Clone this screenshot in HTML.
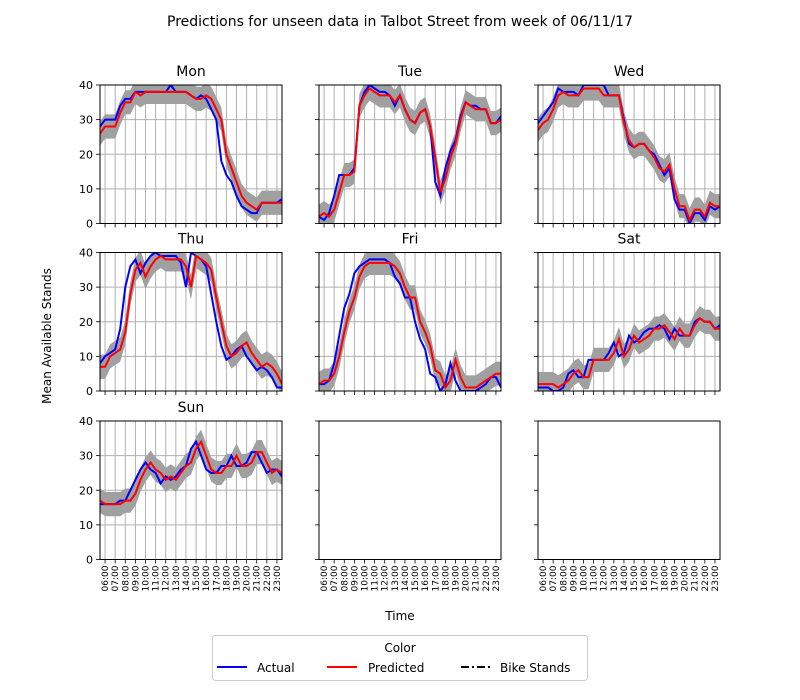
<!DOCTYPE html>
<html><head><meta charset="utf-8"><style>
body{margin:0;background:#fff;}
svg{display:block;font-family:"DejaVu Sans","Liberation Sans",sans-serif;}
</style></head><body>
<svg id="fig" width="800" height="700" viewBox="0 0 800 700" xmlns="http://www.w3.org/2000/svg">
<text x="400" y="26" text-anchor="middle" font-size="14">Predictions for unseen data in Talbot Street from week of 06/11/17</text>
<text transform="translate(51,336) rotate(-90)" text-anchor="middle" font-size="12">Mean Available Stands</text>
<text x="400" y="620" text-anchor="middle" font-size="12">Time</text>
<g id="panels"></g>
<g>
<rect x="212.5" y="635.5" width="375" height="45" rx="3" fill="#fff" stroke="#ccc"/>
<text x="400" y="652" text-anchor="middle" font-size="12">Color</text>
<line x1="217" y1="667" x2="247" y2="667" stroke="#0000ff" stroke-width="2"/>
<text x="257" y="672" font-size="12">Actual</text>
<line x1="327" y1="667" x2="357" y2="667" stroke="#ff0000" stroke-width="2"/>
<text x="368" y="672" font-size="12">Predicted</text>
<line x1="461" y1="667" x2="491" y2="667" stroke="#000" stroke-width="2" stroke-dasharray="8,3,2,3"/>
<text x="500" y="672" font-size="12">Bike Stands</text>
</g>
</svg>
<script>
const days = ["Mon","Tue","Wed","Thu","Fri","Sat","Sun"];
const times = [5.5,6,6.5,7,7.5,8,8.5,9,9.5,10,10.5,11,11.5,12,12.5,13,13.5,14,14.5,15,15.5,16,16.5,17,17.5,18,18.5,19,19.5,20,20.5,21,21.5,22,22.5,23,23.5];
const tickLabels = ["06:00","07:00","08:00","09:00","10:00","11:00","12:00","13:00","14:00","15:00","16:00","17:00","18:00","19:00","20:00","21:00","22:00","23:00"];
const yTicks = [0,10,20,30,40];
const bandHalfWidth = 3.5;
const actualMon = [28,30,30,30,34,36,36,38,38,38,38,38,38,38,40,38,38,38,37,36,37,36,33,30,18,14,12,8,5,4,3,3,6,6,6,6,7];
const predMon   = [26,28,28,28,32,35,35,38,37,38,38,38,38,38,38,38,38,38,37,36,36,37,36,33,30,20,16,12,8,6,5,4,6,6,6,6,6];
const actualTue = [2,1,3,8,14,14,14,16,34,38,40,39,38,38,37,34,37,33,30,29,32,33,28,12,8,16,21,24,31,35,34,34,33,33,29,29,31];
const predTue   = [2,3,2,4,9,14,14,15,34,37,39,38,37,37,37,35,37,33,30,29,32,33,28,19,9,13,19,23,30,35,34,33,33,33,29,29,30];
const actualWed = [29,31,33,35,39,38,38,38,37,40,40,40,40,40,37,37,37,30,23,22,23,23,21,20,17,14,16,7,4,4,0,3,3,1,5,4,5];
const predWed   = [27,29,30,33,37,38,37,37,37,39,39,39,39,37,37,37,37,29,24,22,23,23,21,19,16,15,17,10,5,5,1,4,4,2,6,5,5];
const actualThu = [8,10,11,12,18,30,36,38,34,37,39,40,39,39,39,39,37,30,40,39,38,36,28,20,13,9,10,12,13,10,8,6,7,6,4,1,1];
const predThu   = [7,7,10,11,12,17,28,35,37,33,36,38,39,38,38,38,38,36,30,39,38,37,35,27,20,13,10,11,13,14,11,9,7,8,7,5,2];
const actualFri = [2,2,3,8,16,24,28,34,36,37,38,38,38,38,37,33,31,27,27,20,15,12,5,4,0,2,8,3,0,0,0,0,1,2,4,4,1];
const predFri   = [2,3,3,5,10,17,23,27,33,36,37,37,37,37,37,36,34,30,27,27,20,17,13,6,5,1,3,9,4,1,1,1,2,3,4,5,5];
const actualSat = [1,1,1,0,0,1,5,6,4,4,9,9,9,9,11,14,10,11,16,14,15,17,18,18,19,18,15,18,16,16,16,20,21,20,20,18,19];
const predSat   = [2,2,2,2,1,2,3,5,6,4,4,9,9,9,9,11,15,10,12,16,14,15,16,18,18,19,17,15,18,16,16,19,21,20,20,18,18];
const actualSun = [16,16,16,16,17,17,20,23,26,28,26,25,22,24,23,24,26,27,32,34,30,26,25,25,27,27,30,27,27,28,31,31,28,25,26,26,24];
const predSun   = [17,16,16,16,16,17,17,19,23,26,28,26,25,23,24,23,25,27,28,32,34,30,26,25,25,27,27,30,27,27,28,31,31,28,25,26,25];
const actualSeries = [actualMon,actualTue,actualWed,actualThu,actualFri,actualSat,actualSun];
const predSeries = [predMon,predTue,predWed,predThu,predFri,predSat,predSun];

const NS="http://www.w3.org/2000/svg";
const root=document.getElementById('panels');
function mk(tag,attrs,parent){const e=document.createElementNS(NS,tag);for(const k in attrs)e.setAttribute(k,attrs[k]);(parent||root).appendChild(e);return e;}
const colX=[100,319,538], rowY=[85,252.5,421], W=182, H=138.5;
const X0=5.5,X1=23.5,Y0=0,Y1=40;
for(let p=0;p<9;p++){
  const c=p%3,r=Math.floor(p/3);
  const L=colX[c],T=rowY[r];
  const sx=t=>L+(t-X0)/(X1-X0)*W;
  const sy=v=>T+H-(v-Y0)/(Y1-Y0)*H;
  const g=mk('g',{});
  
  
  mk('defs',{},g).innerHTML='<clipPath id="cp'+p+'"><rect x="'+L+'" y="'+T+'" width="'+W+'" height="'+H+'"/></clipPath>';
  if(p<7){
    tickLabels.forEach((lab,i)=>{const x=sx(6+i);mk('line',{x1:x,y1:T,x2:x,y2:T+H,stroke:'#b0b0b0','stroke-width':1},g);});
    yTicks.forEach(v=>{mk('line',{x1:L,y1:sy(v),x2:L+W,y2:sy(v),stroke:'#b0b0b0','stroke-width':1},g);});
    const cg=mk('g',{'clip-path':'url(#cp'+p+')'},g);
    const pr=predSeries[p],ac=actualSeries[p];
    let d='';
    times.forEach((t,i)=>{d+=(i?'L':'M')+sx(t)+','+sy(pr[i]+bandHalfWidth);});
    for(let i=times.length-1;i>=0;i--)d+='L'+sx(times[i])+','+sy(pr[i]-bandHalfWidth);
    const band=mk('path',{d:d+'Z',fill:'#a0a0a0'},cg);
    
    
    const la=mk('polyline',{points:times.map((t,i)=>sx(t)+','+sy(ac[i])).join(' '),fill:'none',stroke:'#0000ff','stroke-width':2},cg);
    
    
    const lp=mk('polyline',{points:times.map((t,i)=>sx(t)+','+sy(pr[i])).join(' '),fill:'none',stroke:'#ff0000','stroke-width':2},cg);
    
    
    const tt=mk('text',{x:L+W/2,y:T-9,'text-anchor':'middle','font-size':14},g);
    tt.textContent=days[p];
    
    
  }
  mk('rect',{x:L,y:T,width:W,height:H,fill:'none',stroke:'#000','stroke-width':1},g);
  tickLabels.forEach((lab,i)=>{
    const x=sx(6+i);
    mk('line',{x1:x,y1:T+H,x2:x,y2:T+H+4,stroke:'#000','stroke-width':0.8},g);
    if(r===2){
      const tx=mk('text',{transform:'translate('+(x+3)+','+(T+H+6)+') rotate(-90)','text-anchor':'end','font-size':9},g);
      tx.textContent=lab;
      
      
    }
  });
  yTicks.forEach(v=>{
    mk('line',{x1:L-4,y1:sy(v),x2:L,y2:sy(v),stroke:'#000','stroke-width':0.8},g);
    if(c===0){
      const ty=mk('text',{x:L-7,y:sy(v)+4,'text-anchor':'end','font-size':11},g);
      ty.textContent=v;
      
      
    }
  });
}
</script>
</body></html>
